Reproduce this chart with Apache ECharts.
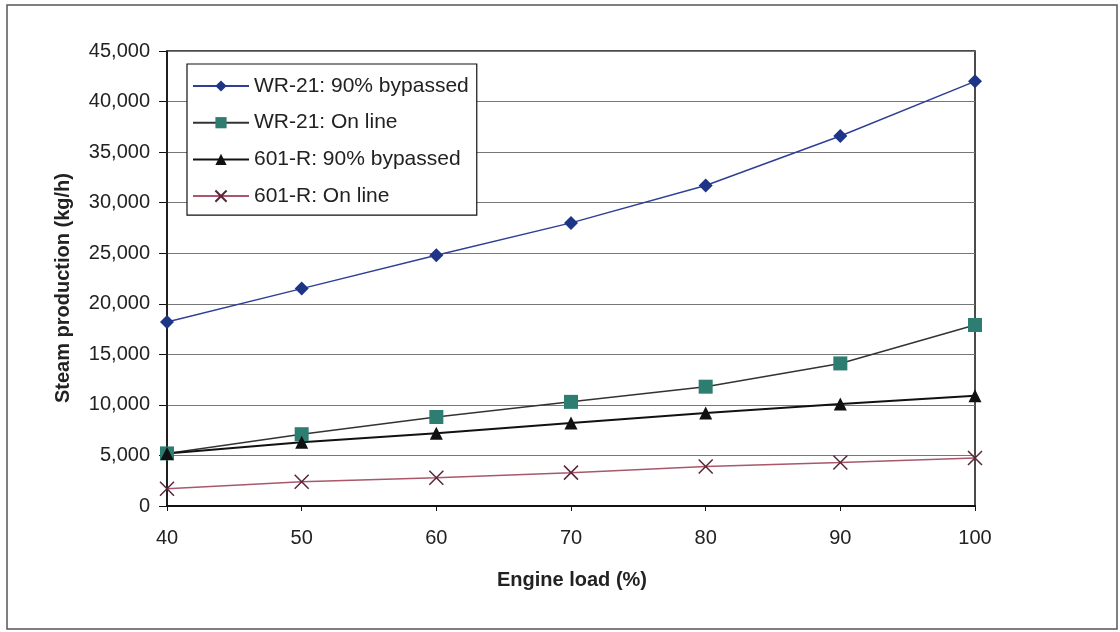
<!DOCTYPE html>
<html>
<head>
<meta charset="utf-8">
<script src="https://cdn.jsdelivr.net/npm/echarts@6/dist/echarts.min.js"></script>
<style>
html,body{margin:0;padding:0;background:#fff;}
#chart{width:1120px;height:632px;}
</style>
</head>
<body>
<div id="chart"></div>
<script>
const engineLoad = [40, 50, 60, 70, 80, 90, 100];
const wr21Bypassed = [18200, 21500, 24800, 28000, 31700, 36600, 42000];
const wr21Online = [5200, 7100, 8800, 10300, 11800, 14100, 17900];
const r601Bypassed = [5200, 6300, 7200, 8200, 9200, 10100, 10900];
const r601Online = [1700, 2400, 2800, 3300, 3900, 4300, 4750];
const seriesNames = ['WR-21: 90% bypassed', 'WR-21: On line', '601-R: 90% bypassed', '601-R: On line'];

function pairs(vals) { return engineLoad.map((x, i) => [x, vals[i]]); }

const font = 'Liberation Sans, Arial, sans-serif';
const chart = echarts.init(document.getElementById('chart'));
chart.setOption({
  animation: false,
  backgroundColor: '#fff',
  textStyle: { fontFamily: font },
  grid: { left: 167, right: 145, top: 51, bottom: 126, show: true, borderColor: '#111', borderWidth: 1.5, backgroundColor: 'transparent' },
  xAxis: {
    type: 'value', min: 40, max: 100, interval: 10,
    axisLine: { onZero: false, lineStyle: { color: '#111', width: 2 } },
    axisTick: { show: true, inside: false, length: 5, lineStyle: { color: '#111' } },
    splitLine: { show: false },
    axisLabel: { color: '#222', fontSize: 20, margin: 22, fontFamily: font }
  },
  yAxis: {
    type: 'value', min: 0, max: 45000, interval: 5000,
    axisLine: { show: true, lineStyle: { color: '#111', width: 1.5 } },
    axisTick: { show: true, length: 8, lineStyle: { color: '#111' } },
    splitLine: { show: true, lineStyle: { color: '#777', width: 1 } },
    axisLabel: { color: '#222', fontSize: 20, margin: 17, fontFamily: font,
      formatter: v => v.toLocaleString('en-US') }
  },
  legend: {
    orient: 'vertical', left: 187, top: 64,
    padding: [11, 8, 8, 5], itemGap: 14.7,
    itemWidth: 56, itemHeight: 14,
    borderColor: '#111', borderWidth: 1.2, backgroundColor: '#fff',
    textStyle: { fontSize: 21, lineHeight: 22, color: '#222', fontFamily: font },
    data: seriesNames
  },
  graphic: [
    { type: 'rect', shape: { x: 7, y: 5, width: 1110, height: 624 }, style: { fill: 'none', stroke: '#555', lineWidth: 1.5 }, silent: true },
    { type: 'text', x: 63, y: 288, rotation: Math.PI / 2, style: { text: 'Steam production (kg/h)', fontSize: 20, fontWeight: 'bold', fill: '#222', fontFamily: font, textAlign: 'center', textVerticalAlign: 'middle' } },
    { type: 'text', x: 572, y: 580, style: { text: 'Engine load (%)', fontSize: 20, fontWeight: 'bold', fill: '#222', fontFamily: font, textAlign: 'center', textVerticalAlign: 'middle' } }
  ],
  series: [
    { name: seriesNames[0], type: 'line', data: pairs(wr21Bypassed), symbol: 'diamond', symbolSize: 14,
      lineStyle: { color: '#2f3f95', width: 1.5 }, itemStyle: { color: '#1e3487' } },
    { name: seriesNames[1], type: 'line', data: pairs(wr21Online), symbol: 'rect', symbolSize: 14,
      lineStyle: { color: '#333', width: 1.5 }, itemStyle: { color: '#2d7d70' } },
    { name: seriesNames[2], type: 'line', data: pairs(r601Bypassed), symbol: 'triangle', symbolSize: 13,
      lineStyle: { color: '#111', width: 2 }, itemStyle: { color: '#111' } },
    { name: seriesNames[3], type: 'line', data: pairs(r601Online), symbol: 'path://M0,0L10,10M10,0L0,10', symbolSize: 14,
      lineStyle: { color: '#a8586a', width: 1.5 }, itemStyle: { color: 'none', borderColor: '#5a2538', borderWidth: 1.5 } }
  ]
});
</script>
</body>
</html>
